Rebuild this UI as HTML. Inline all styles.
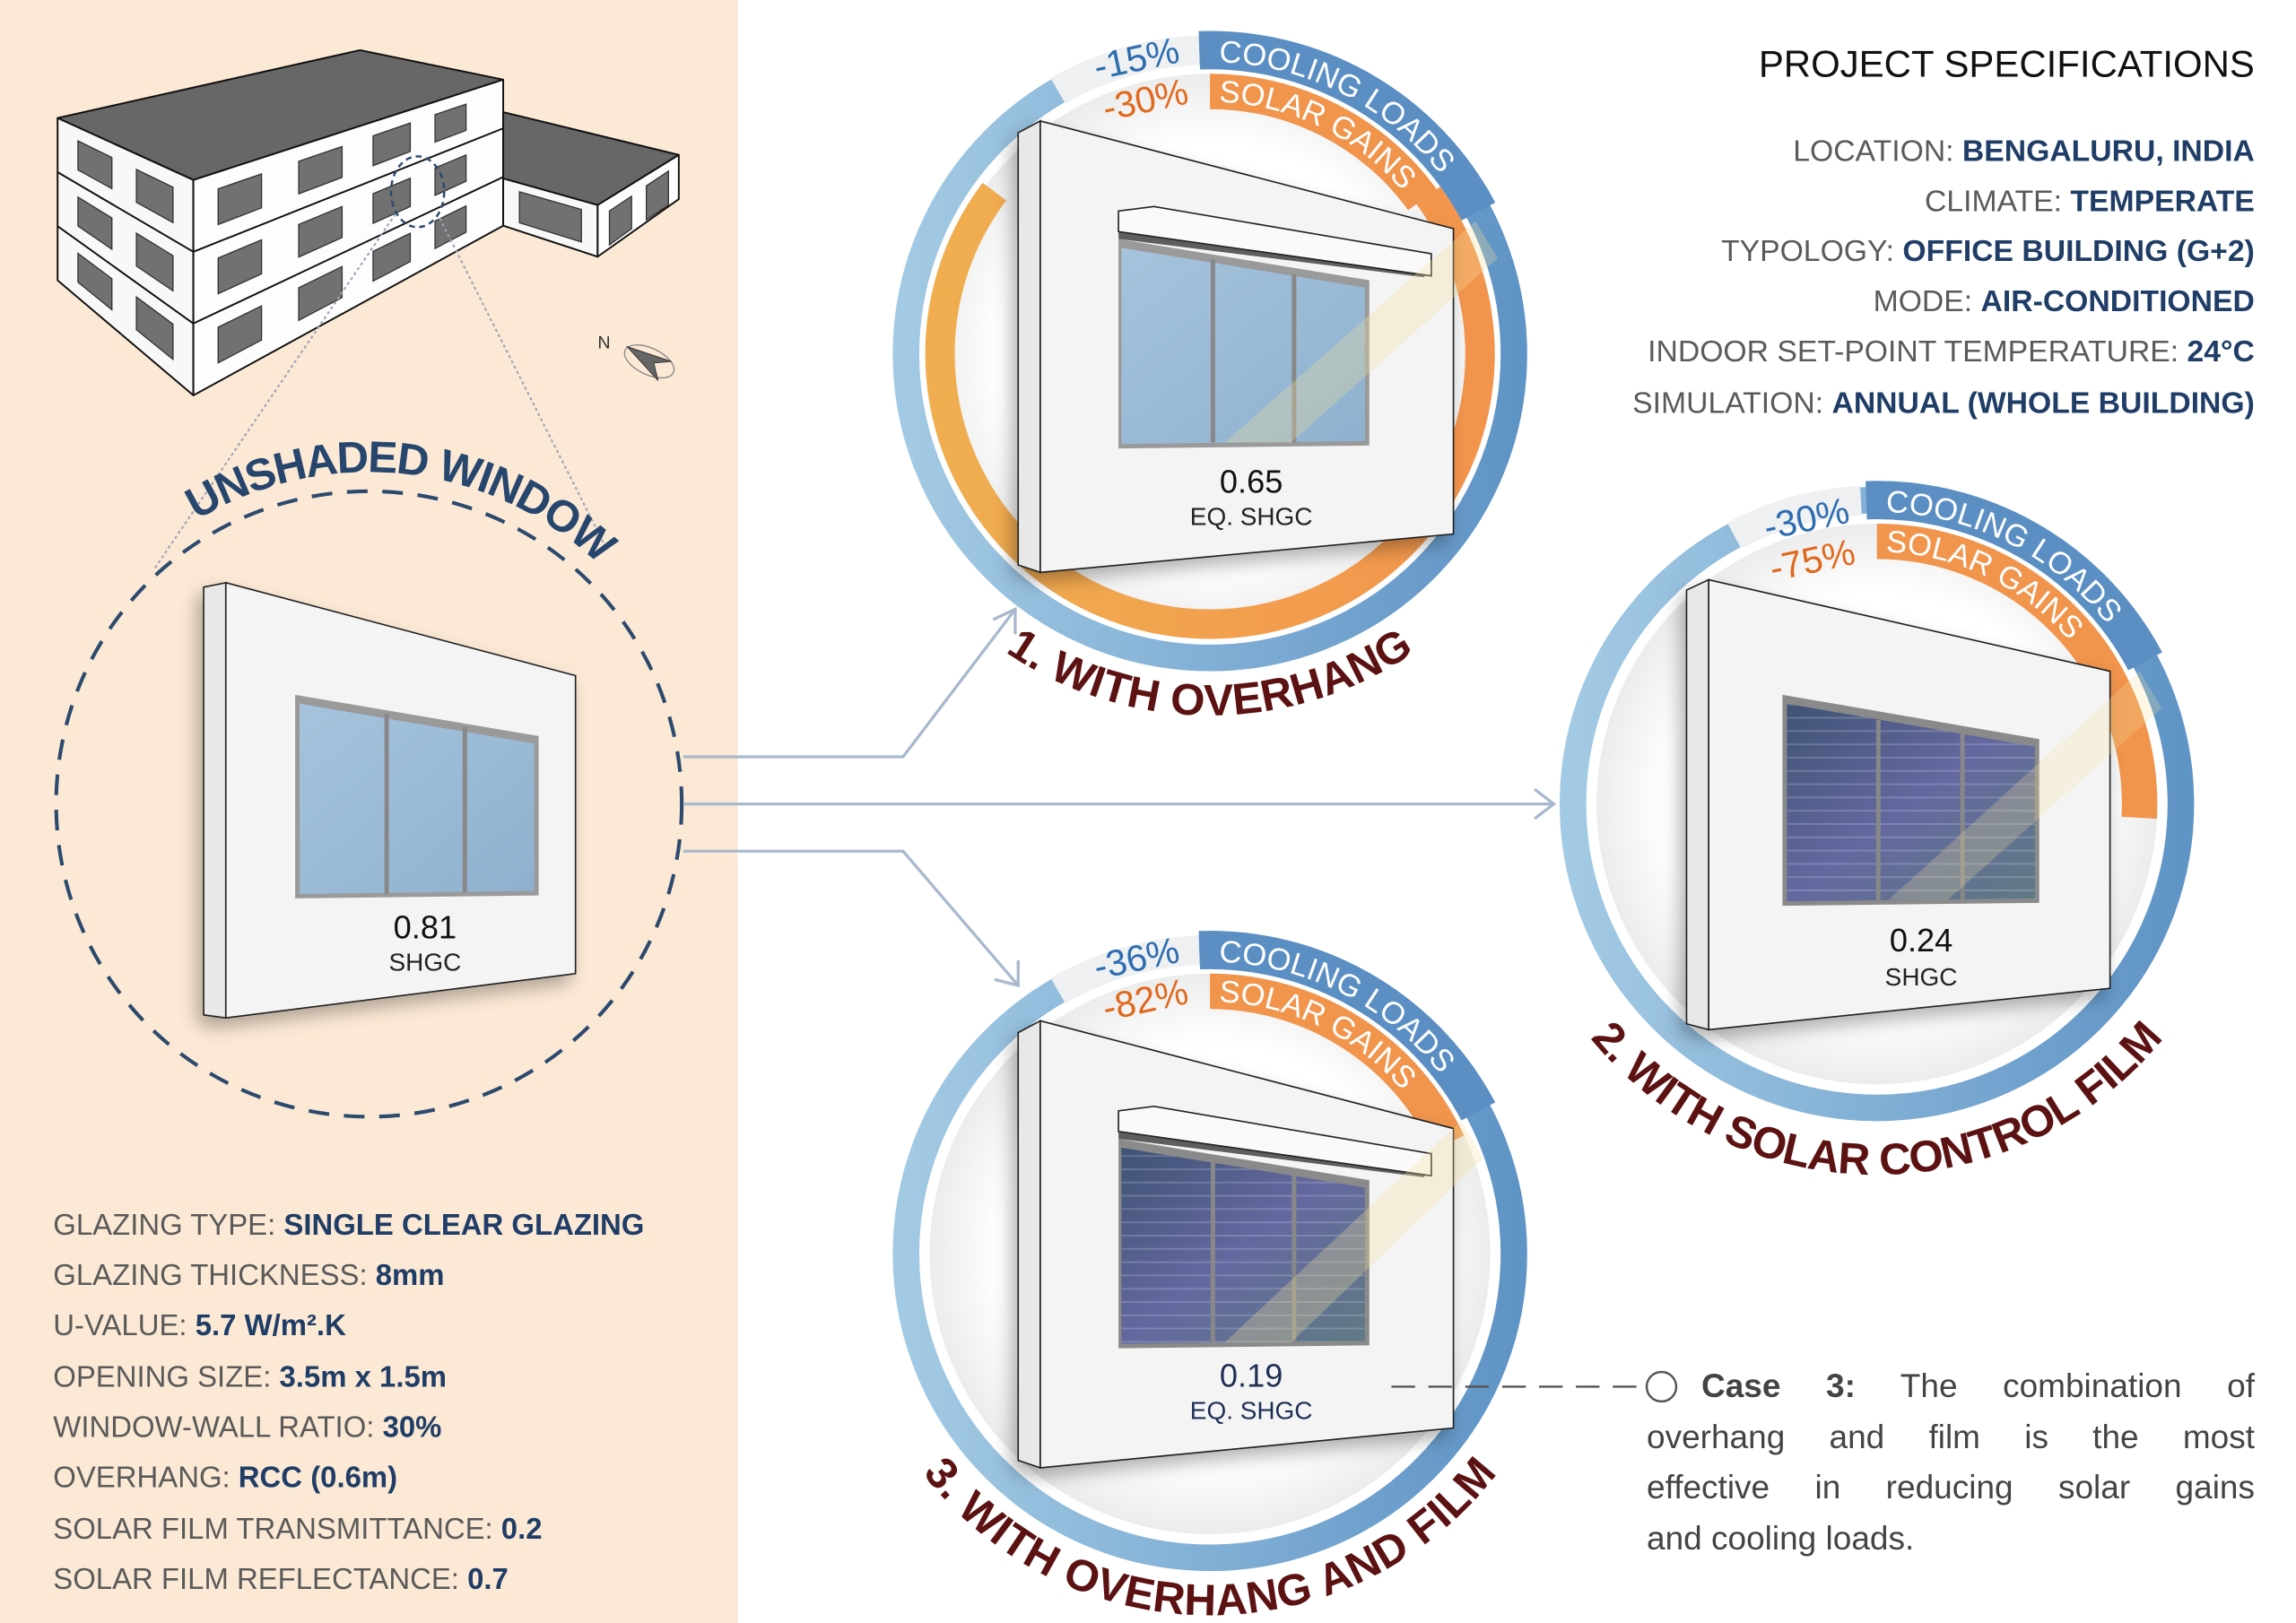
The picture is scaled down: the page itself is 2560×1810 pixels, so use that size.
<!DOCTYPE html>
<html><head><meta charset="utf-8"><style>
html,body{margin:0;padding:0;background:#fff;}
#wrap{position:relative;width:2560px;height:1810px;overflow:hidden;}
svg{display:block;position:absolute;left:0;top:0;}
text{font-family:"Liberation Sans",sans-serif;}
#case{position:absolute;left:1836px;top:1518px;width:678px;font-family:"Liberation Sans",sans-serif;font-size:37px;line-height:56.5px;color:#444;}
#case div{text-align:justify;text-align-last:justify;white-space:nowrap;}
#case div.l{text-align-last:left;}
</style></head><body><div id="wrap">
<svg width="2560" height="1810" viewBox="0 0 1556 1100.2" xmlns="http://www.w3.org/2000/svg">
<defs>
<linearGradient id="blueG" x1="0" y1="0" x2="1" y2="0">
<stop offset="0" stop-color="#a3cae4"/><stop offset="1" stop-color="#5f94c6"/></linearGradient>
<linearGradient id="oraG" x1="0" y1="0" x2="1" y2="0">
<stop offset="0" stop-color="#f0ae50"/><stop offset="1" stop-color="#f3944c"/></linearGradient>
<linearGradient id="glass" x1="0" y1="0" x2="1" y2="1">
<stop offset="0" stop-color="#a6c3dc"/><stop offset="1" stop-color="#8fb1cf"/></linearGradient>
<linearGradient id="film" x1="0" y1="0" x2="1" y2="1">
<stop offset="0" stop-color="#3f5374"/><stop offset="0.5" stop-color="#6468a0"/><stop offset="1" stop-color="#5f7a84"/></linearGradient>
<pattern id="stripes" width="10" height="9" patternUnits="userSpaceOnUse">
<rect width="10" height="1.2" fill="#ffffff" opacity="0.18"/></pattern>
<radialGradient id="disc" cx="0.5" cy="0.5" r="0.5">
<stop offset="0.75" stop-color="#ffffff"/><stop offset="1" stop-color="#ececec"/></radialGradient>
<filter id="sh" x="-20%" y="-20%" width="150%" height="150%">
<feDropShadow dx="-4" dy="6" stdDeviation="6" flood-color="#000" flood-opacity="0.3"/></filter>
<path id="uw" d="M25,545 A225,225 0 0 1 475,545"/>
<path id="t1" d="M589.8,323.8 A245,245 0 0 0 1050.2,323.8"/>
<path id="t2" d="M1036.6,630.5 A250,250 0 0 0 1507.4,630.5"/>
<path id="t3" d="M589.8,933.8 A245,245 0 0 0 1050.2,933.8"/>
<path id="c1" d="M820,42 A198,198 0 0 1 994.8,147.1"/>
<path id="s1" d="M820,69 A171,171 0 0 1 958.3,139.5"/>
<path id="c2" d="M1272,347 A198,198 0 0 1 1446.8,452.1"/>
<path id="s2" d="M1272,374 A171,171 0 0 1 1420.1,459.5"/>
<path id="c3" d="M820,652 A198,198 0 0 1 994.8,757.1"/>
<path id="s3" d="M820,679 A171,171 0 0 1 958.3,749.5"/>
</defs>

<rect x="0" y="0" width="500" height="1100.2" fill="#fce9d5"/>

<g stroke="#111" stroke-width="1.2" stroke-linejoin="round">
<polygon points="39,80 244,34 341,54 131,122" fill="#676767"/>
<polygon points="39,80 131,122 131,268 39,190" fill="#f8f8f8"/>
<polygon points="131,122 341,54 341,153 131,268" fill="#fdfdfd"/>
<line x1="39" y1="116.7" x2="131" y2="170.7"/><line x1="39" y1="153.3" x2="131" y2="219.3"/>
<line x1="131" y1="170.7" x2="341" y2="87"/><line x1="131" y1="219.3" x2="341" y2="120"/>
<polygon points="341,76 460,105 405,139 341,121" fill="#676767"/>
<polygon points="341,121 405,139 405,174 341,153" fill="#f8f8f8"/>
<polygon points="405,139 460,105 460,135 405,174" fill="#fdfdfd"/>
</g>
<g fill="#717171" stroke="#333" stroke-width="0.8">
<polygon points="147.8,128 177.2,117.9 177.2,140.9 147.8,152.2"/>
<polygon points="147.8,174.9 177.2,162.6 177.2,185.7 147.8,199.1"/>
<polygon points="147.8,221.8 177.2,207.4 177.2,230.5 147.8,246"/>
<polygon points="202.4,109.3 231.8,99.3 231.8,120.3 202.4,131.4"/>
<polygon points="202.4,152.2 231.8,140 231.8,161 202.4,174.3"/>
<polygon points="202.4,195.1 231.8,180.7 231.8,201.7 202.4,217.2"/>
<polygon points="252.8,92.1 278,83.4 278,102.7 252.8,112.3"/>
<polygon points="252.8,131.3 278,120.8 278,140 252.8,151.4"/>
<polygon points="252.8,170.4 278,158.1 278,177.3 252.8,190.6"/>
<polygon points="294.8,77.7 315.8,70.6 315.8,88.4 294.8,96.3"/>
<polygon points="294.8,113.8 315.8,105.1 315.8,122.9 294.8,132.4"/>
<polygon points="294.8,149.9 315.8,139.6 315.8,157.4 294.8,168.5"/>
<polygon points="52.8,95.5 75.8,106.8 75.8,127.9 52.8,115.2"/>
<polygon points="52.8,133.6 75.8,147.8 75.8,169 52.8,153.2"/>
<polygon points="52.8,171.7 75.8,188.9 75.8,210 52.8,191.3"/>
<polygon points="92.4,114.9 117.2,126.9 117.2,150.9 92.4,137.1"/>
<polygon points="92.4,158.1 117.2,173.3 117.2,197.2 92.4,180.3"/>
<polygon points="92.4,201.3 117.2,219.7 117.2,243.6 92.4,223.5"/>
<polygon points="352,130 394,142 394,164 352,151"/>
<polygon points="413,143 428,133 428,155 413,166"/>
<polygon points="438,126 453,116 453,139 438,149"/>
</g>
<ellipse cx="283" cy="130" rx="18" ry="24" fill="none" stroke="#2c4a6e" stroke-width="1.5" stroke-dasharray="4 3"/>
<line x1="268" y1="145" x2="105" y2="385" stroke="#9aa5b4" stroke-width="1.3" stroke-dasharray="2 2"/>
<line x1="298" y1="148" x2="410" y2="370" stroke="#9aa5b4" stroke-width="1.3" stroke-dasharray="2 2"/>
<text x="405" y="236" font-size="12" fill="#333">N</text>
<ellipse cx="440" cy="245" rx="18" ry="9" transform="rotate(25 440 245)" fill="none" stroke="#888" stroke-width="0.8"/>
<polygon points="425,235 455,245 443,246 446,258" fill="#666" stroke="#333" stroke-width="0.6"/>

<circle cx="250" cy="545" r="212" fill="none" stroke="#2c4a6e" stroke-width="2.5" stroke-dasharray="14 10"/>
<text font-size="30" font-weight="bold" fill="#27466e"><textPath href="#uw" startOffset="53.5%" text-anchor="middle" textLength="295" lengthAdjust="spacing">UNSHADED WINDOW</textPath></text>

<g fill="none" stroke="#a9b9cd" stroke-width="2">
<polyline points="463,513 612,513 688,413"/>
<polyline points="673,420 688,413 688,430"/>
<line x1="463" y1="545" x2="1053" y2="545"/>
<polyline points="1040,535 1053,545 1040,555"/>
<polyline points="463,577 612,577 690,668"/>
<polyline points="690,651 690,668 674,664"/>
</g>

<g filter="url(#sh)">
<polygon points="138,398 153,395 153,690 138,688" fill="#e8e8e8" stroke="#222" stroke-width="1"/>
<polygon points="153,395 390,458 390,660 153,690" fill="#f4f4f4" stroke="#222" stroke-width="1"/>
</g>
<polygon points="200,471 365,499 365,607 200,609" fill="#9a9a9a"/>
<polygon points="203,477 362,504 362,604 203,606" fill="url(#glass)"/>
<line x1="262" y1="484" x2="262" y2="606" stroke="#888" stroke-width="3"/>
<line x1="315" y1="493" x2="315" y2="605" stroke="#888" stroke-width="3"/>
<text x="288" y="636" font-size="22" text-anchor="middle" fill="#111">0.81</text>
<text x="288" y="658" font-size="17" text-anchor="middle" fill="#222">SHGC</text>

<circle cx="820" cy="240" r="190" fill="url(#disc)"/>
<circle cx="820" cy="240" r="206" fill="none" stroke="url(#blueG)" stroke-width="18"/>
<path d="M717,61.6 A206,206 0 0 1 812.8,34.1" fill="none" stroke="#eef0f2" stroke-width="20"/>
<path d="M812.8,34.1 A206,206 0 0 1 1001.9,143.4" fill="none" stroke="#5b8fc4" stroke-width="26"/>
<path d="M968,132.4 A183,183 0 1 1 673.9,129.9" fill="none" stroke="url(#oraG)" stroke-width="20"/>
<path d="M820,62 A178,178 0 0 1 964,135.4" fill="none" stroke="#f1944c" stroke-width="24"/>
<text font-size="21" fill="#fff"><textPath href="#c1" startOffset="6">COOLING LOADS</textPath></text>
<text font-size="21" fill="#fff"><textPath href="#s1" startOffset="6">SOLAR GAINS</textPath></text>
<text x="772" y="48" font-size="25" fill="#2d6db0" text-anchor="middle" transform="rotate(-12 772 48)">-15%</text>
<text x="778" y="76" font-size="25" fill="#e0691c" text-anchor="middle" transform="rotate(-12 778 76)">-30%</text>
<g filter="url(#sh)">
<polygon points="690,90 705,82 705,388 690,383" fill="#e8e8e8" stroke="#222" stroke-width="1"/>
<polygon points="705,82 985,155 985,362 705,388" fill="#f4f4f4" stroke="#222" stroke-width="1"/>
</g>
<polygon points="758,162 928,190 928,302 758,304" fill="#9a9a9a"/>
<polygon points="760,168 925,195 925,299 760,301" fill="url(#glass)"/>
<line x1="822" y1="176" x2="822" y2="300" stroke="#888" stroke-width="3"/>
<line x1="877" y1="186" x2="877" y2="300" stroke="#888" stroke-width="3"/>
<polygon points="758,150 758,162 965,188 970,178" fill="#5e5e5e"/>
<polygon points="758,143 782,140 970,172 970,187 758,157" fill="#fafafa" stroke="#222" stroke-width="1"/>
<polygon points="1000,150 1015,175 875,300 830,300" fill="#f3df9a" opacity="0.3"/>
<text x="848" y="334" font-size="22" text-anchor="middle" fill="#111">0.65</text>
<text x="848" y="356" font-size="17" text-anchor="middle" fill="#222">EQ. SHGC</text>
<text font-size="30" font-weight="bold" fill="#5c1212"><textPath href="#t1" startOffset="50%" text-anchor="middle" textLength="295" lengthAdjust="spacing">1. WITH OVERHANG</textPath></text>

<circle cx="1272" cy="545" r="190" fill="url(#disc)"/>
<circle cx="1272" cy="545" r="206" fill="none" stroke="url(#blueG)" stroke-width="18"/>
<path d="M1175.3,363.1 A206,206 0 0 1 1261.2,339.3" fill="none" stroke="#eef0f2" stroke-width="20"/>
<path d="M1264.8,339.1 A206,206 0 0 1 1453.9,448.3" fill="none" stroke="#5b8fc4" stroke-width="26"/>
<path d="M1272,367 A178,178 0 0 1 1449.8,554.3" fill="none" stroke="#f1944c" stroke-width="24"/>
<text font-size="21" fill="#fff"><textPath href="#c2" startOffset="6">COOLING LOADS</textPath></text>
<text font-size="21" fill="#fff"><textPath href="#s2" startOffset="6">SOLAR GAINS</textPath></text>
<text x="1226" y="360" font-size="25" fill="#2d6db0" text-anchor="middle" transform="rotate(-12 1226 360)">-30%</text>
<text x="1230" y="388" font-size="25" fill="#e0691c" text-anchor="middle" transform="rotate(-12 1230 388)">-75%</text>
<g filter="url(#sh)">
<polygon points="1143,400 1158,393 1158,698 1143,694" fill="#e8e8e8" stroke="#222" stroke-width="1"/>
<polygon points="1158,393 1430,455 1430,670 1158,698" fill="#f4f4f4" stroke="#222" stroke-width="1"/>
</g>
<polygon points="1208,471 1382,501 1382,612 1208,614" fill="#8a8a8a"/>
<polygon points="1211,477 1379,506 1379,609 1211,611" fill="url(#film)"/>
<polygon points="1211,477 1379,506 1379,609 1211,611" fill="url(#stripes)"/>
<line x1="1273" y1="488" x2="1273" y2="610" stroke="#888" stroke-width="3"/>
<line x1="1330" y1="497" x2="1330" y2="610" stroke="#888" stroke-width="3"/>
<polygon points="1450,455 1465,480 1320,610 1280,610" fill="#f3df9a" opacity="0.25"/>
<text x="1302" y="645" font-size="22" text-anchor="middle" fill="#111">0.24</text>
<text x="1302" y="668" font-size="17" text-anchor="middle" fill="#222">SHGC</text>
<text font-size="30" font-weight="bold" fill="#5c1212"><textPath href="#t2" startOffset="50%" text-anchor="middle" textLength="445" lengthAdjust="spacing">2. WITH SOLAR CONTROL FILM</textPath></text>

<circle cx="820" cy="850" r="190" fill="url(#disc)"/>
<circle cx="820" cy="850" r="206" fill="none" stroke="url(#blueG)" stroke-width="18"/>
<path d="M717,671.6 A206,206 0 0 1 812.8,644.1" fill="none" stroke="#eef0f2" stroke-width="20"/>
<path d="M812.8,644.1 A206,206 0 0 1 1001.9,753.4" fill="none" stroke="#5b8fc4" stroke-width="26"/>
<path d="M820,672 A178,178 0 0 1 981.3,774.8" fill="none" stroke="#f1944c" stroke-width="24"/>
<text font-size="21" fill="#fff"><textPath href="#c3" startOffset="6">COOLING LOADS</textPath></text>
<text font-size="21" fill="#fff"><textPath href="#s3" startOffset="6">SOLAR GAINS</textPath></text>
<text x="772" y="658" font-size="25" fill="#2d6db0" text-anchor="middle" transform="rotate(-12 772 658)">-36%</text>
<text x="778" y="686" font-size="25" fill="#e0691c" text-anchor="middle" transform="rotate(-12 778 686)">-82%</text>
<g filter="url(#sh)">
<polygon points="690,700 705,692 705,995 690,990" fill="#e8e8e8" stroke="#222" stroke-width="1"/>
<polygon points="705,692 985,765 985,968 705,995" fill="#f4f4f4" stroke="#222" stroke-width="1"/>
</g>
<polygon points="758,772 928,800 928,912 758,914" fill="#8a8a8a"/>
<polygon points="760,778 925,805 925,909 760,911" fill="url(#film)"/>
<polygon points="760,778 925,805 925,909 760,911" fill="url(#stripes)"/>
<line x1="822" y1="786" x2="822" y2="910" stroke="#888" stroke-width="3"/>
<line x1="877" y1="796" x2="877" y2="910" stroke="#888" stroke-width="3"/>
<polygon points="758,760 758,772 965,798 970,788" fill="#5e5e5e"/>
<polygon points="758,753 782,750 970,782 970,797 758,767" fill="#fafafa" stroke="#222" stroke-width="1"/>
<polygon points="990,760 1005,785 875,910 830,910" fill="#f3df9a" opacity="0.3"/>
<text x="848" y="940" font-size="22" text-anchor="middle" fill="#1e2f55">0.19</text>
<text x="848" y="962" font-size="17" text-anchor="middle" fill="#1e2f55">EQ. SHGC</text>
<text font-size="30" font-weight="bold" fill="#5c1212"><textPath href="#t3" startOffset="50%" text-anchor="middle" textLength="450" lengthAdjust="spacing">3. WITH OVERHANG AND FILM</textPath></text>

<line x1="943" y1="940" x2="1115" y2="940" stroke="#555" stroke-width="1.5" stroke-dasharray="16 9"/>
<circle cx="1126" cy="940" r="10" fill="#fff" stroke="#555" stroke-width="1.5"/>

<text x="1528" y="52" font-size="25.5" text-anchor="end" fill="#111">PROJECT SPECIFICATIONS</text>
<g font-size="20.5" text-anchor="end" fill="#5a5a5a">
<text x="1528" y="109">LOCATION: <tspan font-weight="bold" fill="#1f3d66">BENGALURU, INDIA</tspan></text>
<text x="1528" y="143">CLIMATE: <tspan font-weight="bold" fill="#1f3d66">TEMPERATE</tspan></text>
<text x="1528" y="177">TYPOLOGY: <tspan font-weight="bold" fill="#1f3d66">OFFICE BUILDING (G+2)</tspan></text>
<text x="1528" y="211">MODE: <tspan font-weight="bold" fill="#1f3d66">AIR-CONDITIONED</tspan></text>
<text x="1528" y="245">INDOOR SET-POINT TEMPERATURE: <tspan font-weight="bold" fill="#1f3d66">24°C</tspan></text>
<text x="1528" y="280">SIMULATION: <tspan font-weight="bold" fill="#1f3d66">ANNUAL (WHOLE BUILDING)</tspan></text>
</g>

<g font-size="20" fill="#5a5a5a">
<text x="36" y="837">GLAZING TYPE: <tspan font-weight="bold" fill="#1f3d66">SINGLE CLEAR GLAZING</tspan></text>
<text x="36" y="871">GLAZING THICKNESS: <tspan font-weight="bold" fill="#1f3d66">8mm</tspan></text>
<text x="36" y="905">U-VALUE: <tspan font-weight="bold" fill="#1f3d66">5.7 W/m².K</tspan></text>
<text x="36" y="940">OPENING SIZE: <tspan font-weight="bold" fill="#1f3d66">3.5m x 1.5m</tspan></text>
<text x="36" y="974">WINDOW-WALL RATIO: <tspan font-weight="bold" fill="#1f3d66">30%</tspan></text>
<text x="36" y="1008">OVERHANG: <tspan font-weight="bold" fill="#1f3d66">RCC (0.6m)</tspan></text>
<text x="36" y="1043">SOLAR FILM TRANSMITTANCE: <tspan font-weight="bold" fill="#1f3d66">0.2</tspan></text>
<text x="36" y="1077">SOLAR FILM REFLECTANCE: <tspan font-weight="bold" fill="#1f3d66">0.7</tspan></text>
</g>
</svg>
<div id="case">
<div style="padding-left:61px"><b>Case 3:</b> The combination of</div>
<div>overhang and film is the most</div>
<div>effective in reducing solar gains</div>
<div class="l">and cooling loads.</div>
</div>
</div>
</body></html>
